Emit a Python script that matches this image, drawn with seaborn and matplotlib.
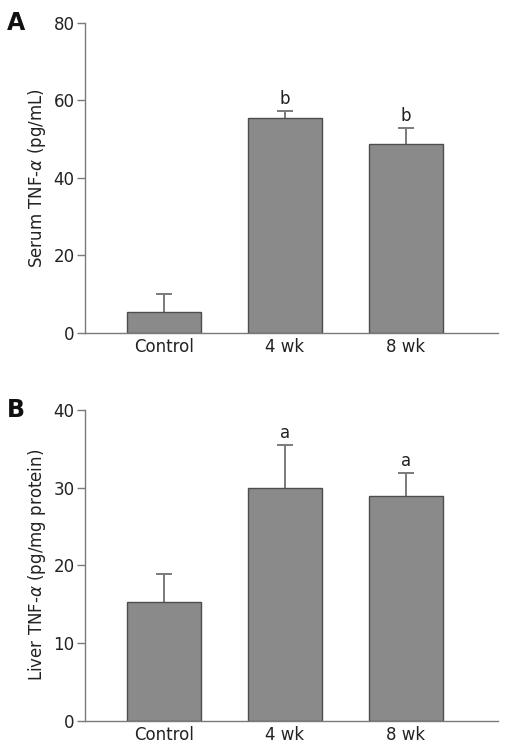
import numpy as np
import pandas as pd
import seaborn as sns
import matplotlib.pyplot as plt

# values
groups = ["Control", "4 wk", "8 wk"]
serum_mean = [5.4, 55.4, 48.6]
serum_sd = [4.6, 1.9, 4.3]
serum_sig = ["", "b", "b"]
liver_mean = [15.3, 30.0, 28.9]
liver_sd = [3.6, 5.5, 3.0]
liver_sig = ["", "a", "a"]

sns.set_style("ticks")
plt.rcParams["font.family"] = ["DejaVu Sans"]
plt.rcParams["mathtext.fontset"] = "dejavusans"

bar_color = "#8a8a8a"
edge_color = "#4d4d4d"
line_color = "#7a7a7a"

fig = plt.figure(figsize=(5.08, 7.51), dpi=100)
W, H = 508, 751
# axes positions in pixels: left, top, right, bottom
ax_a = fig.add_axes([85 / W, 1 - 332.7 / H, (498 - 85) / W, (332.7 - 22.7) / H])
ax_b = fig.add_axes([85 / W, 1 - 720.7 / H, (498 - 85) / W, (720.7 - 410) / H])


def panel(ax, means, sds, sig, ymax, ystep, ylabel, letter):
    df = pd.DataFrame({"group": groups, "value": means})
    sns.barplot(data=df, x="group", y="value", order=groups, color=bar_color,
                width=0.61, edgecolor=edge_color, linewidth=1.0,
                errorbar=None, ax=ax, saturation=1, zorder=2)
    xs = np.arange(len(groups))
    eb = ax.errorbar(xs, means, yerr=[np.zeros(len(sds)), sds], fmt="none",
                     ecolor=line_color, elinewidth=1.4, capsize=6, capthick=1.4,
                     zorder=1)
    # only the upper cap is drawn in the original
    eb[1][0].set_visible(False)
    for x, m, s, t in zip(xs, means, sds, sig):
        if t:
            ax.annotate(t, (x, m + s), xytext=(0, 2), textcoords="offset points",
                        ha="center", va="bottom", fontsize=12, color="#222222")
    ax.set_ylim(0, ymax)
    ax.set_xlim(-0.65, 2.76)
    ax.set_yticks(np.arange(0, ymax + 1, ystep))
    ax.set_xlabel("")
    ax.set_ylabel(ylabel, fontsize=12, color="#222222", labelpad=4)
    for side in ["top", "right"]:
        ax.spines[side].set_visible(False)
    for side in ["left", "bottom"]:
        ax.spines[side].set_color(line_color)
        ax.spines[side].set_linewidth(1.0)
    ax.tick_params(axis="y", length=6, width=1.0, color=line_color,
                   labelsize=12, labelcolor="#222222", pad=1.5)
    ax.tick_params(axis="x", length=0, labelsize=12, labelcolor="#222222", pad=4)
    ax.text(-0.19, 1.0, letter, transform=ax.transAxes, fontsize=17,
            fontweight="bold", ha="left", va="center", color="#111111")


panel(ax_a, serum_mean, serum_sd, serum_sig, 80, 20,
      r"Serum TNF-$\alpha$ (pg/mL)", "A")
panel(ax_b, liver_mean, liver_sd, liver_sig, 40, 10,
      r"Liver TNF-$\alpha$ (pg/mg protein)", "B")

fig.savefig("out.png", dpi=100)
